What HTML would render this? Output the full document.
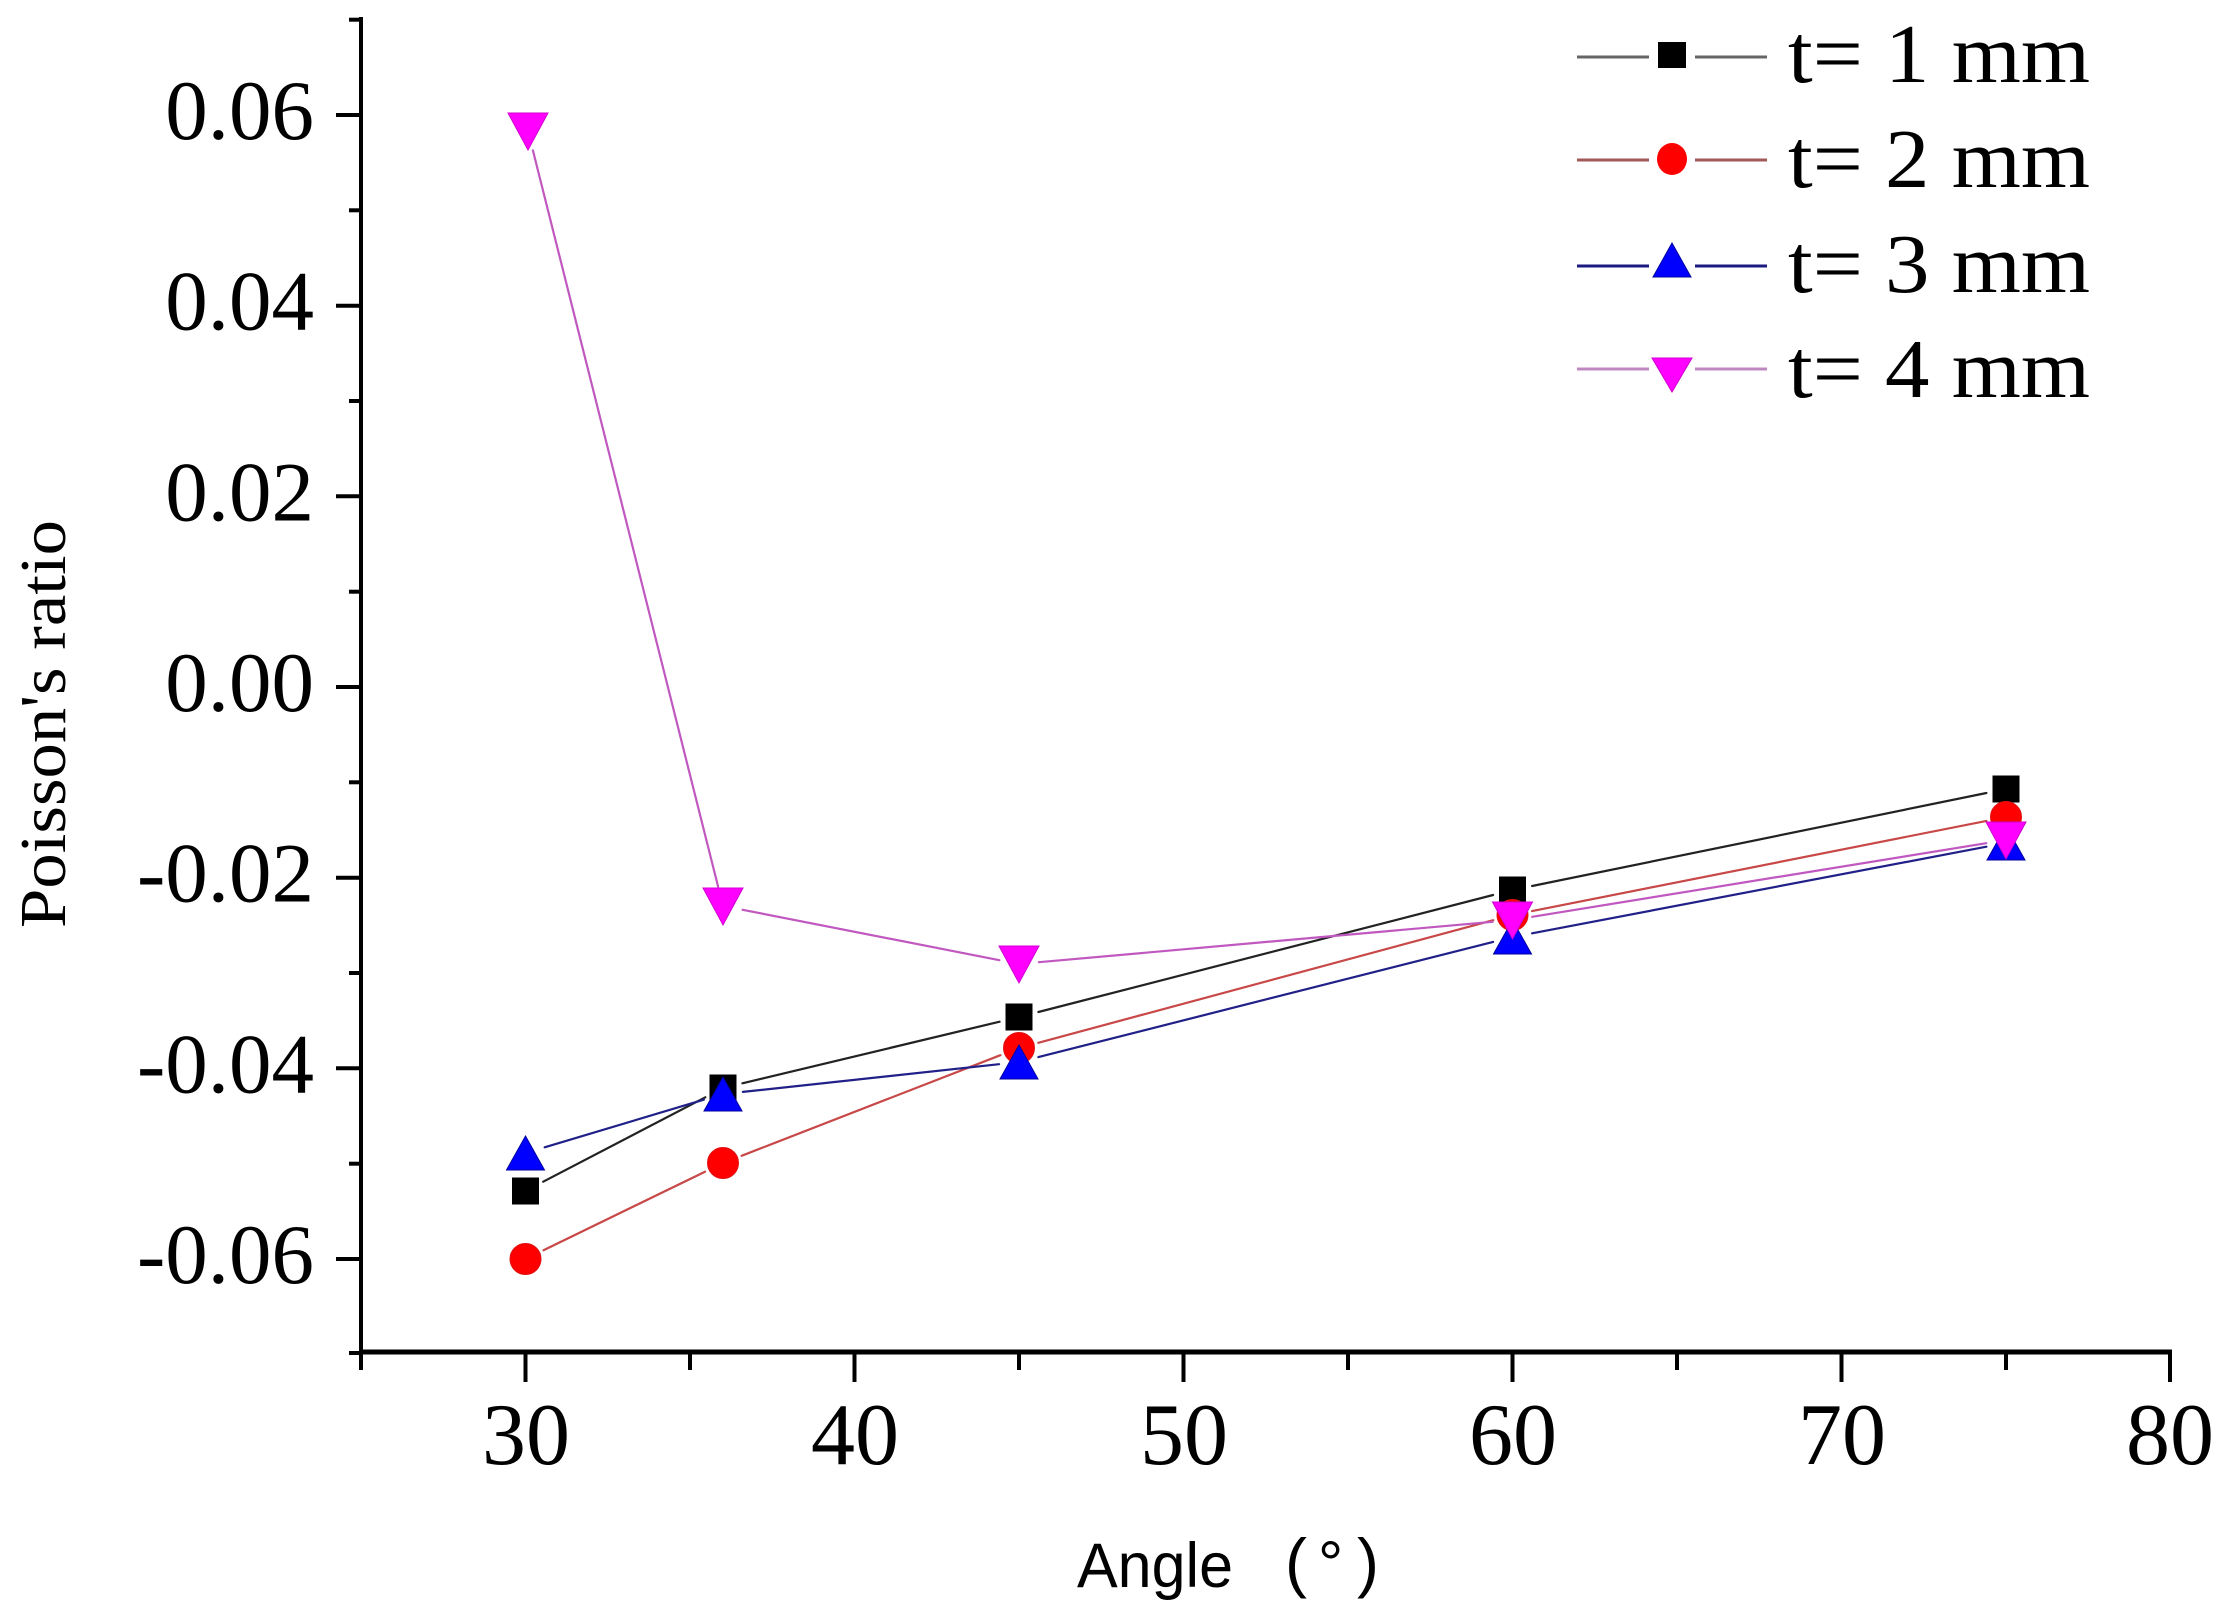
<!DOCTYPE html>
<html>
<head>
<meta charset="utf-8">
<style>
html,body{margin:0;padding:0;background:#fff;}
svg{display:block;}
</style>
</head>
<body>
<svg width="2233" height="1617" viewBox="0 0 2233 1617" xmlns="http://www.w3.org/2000/svg">
<rect width="2233" height="1617" fill="#fff"/>

<!-- axes -->
<line x1="361" y1="17" x2="361" y2="1354" stroke="#000" stroke-width="4"/>
<line x1="359" y1="1352" x2="2172" y2="1352" stroke="#000" stroke-width="5"/>

<!-- y ticks major -->
<g stroke="#000" stroke-width="4">
<line x1="336" y1="115" x2="361" y2="115"/>
<line x1="336" y1="305.7" x2="361" y2="305.7"/>
<line x1="336" y1="496.3" x2="361" y2="496.3"/>
<line x1="336" y1="687" x2="361" y2="687"/>
<line x1="336" y1="877.7" x2="361" y2="877.7"/>
<line x1="336" y1="1068.3" x2="361" y2="1068.3"/>
<line x1="336" y1="1259" x2="361" y2="1259"/>
<!-- minor -->
<line x1="349" y1="19.7" x2="361" y2="19.7"/>
<line x1="349" y1="210.3" x2="361" y2="210.3"/>
<line x1="349" y1="401" x2="361" y2="401"/>
<line x1="349" y1="591.7" x2="361" y2="591.7"/>
<line x1="349" y1="782.3" x2="361" y2="782.3"/>
<line x1="349" y1="973" x2="361" y2="973"/>
<line x1="349" y1="1163.7" x2="361" y2="1163.7"/>
<line x1="349" y1="1353" x2="361" y2="1353"/>
</g>

<!-- x ticks -->
<g stroke="#000" stroke-width="4">
<line x1="525.5" y1="1352" x2="525.5" y2="1382"/>
<line x1="854.5" y1="1352" x2="854.5" y2="1382"/>
<line x1="1183.5" y1="1352" x2="1183.5" y2="1382"/>
<line x1="1512.5" y1="1352" x2="1512.5" y2="1382"/>
<line x1="1841.5" y1="1352" x2="1841.5" y2="1382"/>
<line x1="2170" y1="1352" x2="2170" y2="1382"/>
<line x1="361" y1="1352" x2="361" y2="1370"/>
<line x1="690" y1="1352" x2="690" y2="1370"/>
<line x1="1019" y1="1352" x2="1019" y2="1370"/>
<line x1="1348" y1="1352" x2="1348" y2="1370"/>
<line x1="1677" y1="1352" x2="1677" y2="1370"/>
<line x1="2006" y1="1352" x2="2006" y2="1370"/>
</g>

<!-- y tick labels -->
<g font-family="'Liberation Serif', serif" font-size="85" fill="#000" text-anchor="end">
<text x="314" y="139">0.06</text>
<text x="314" y="329.7">0.04</text>
<text x="314" y="520.3">0.02</text>
<text x="314" y="711">0.00</text>
<text x="314" y="901.7">-0.02</text>
<text x="314" y="1092.3">-0.04</text>
<text x="314" y="1283">-0.06</text>
</g>

<!-- x tick labels -->
<g font-family="'Liberation Serif', serif" font-size="88" fill="#000" text-anchor="middle">
<text x="526" y="1464">30</text>
<text x="855" y="1464">40</text>
<text x="1184" y="1464">50</text>
<text x="1513" y="1464">60</text>
<text x="1842" y="1464">70</text>
<text x="2170" y="1464">80</text>
</g>

<!-- axis titles -->
<text x="1077" y="1587" font-family="'Liberation Sans', sans-serif" font-size="63" textLength="156" lengthAdjust="spacingAndGlyphs" fill="#000">Angle</text>
<text x="1285" y="1585" font-family="'Liberation Sans', sans-serif" font-size="66" fill="#000">(</text>
<text x="1318" y="1585" font-family="'Liberation Sans', sans-serif" font-size="63" fill="#000">°</text>
<text x="1357" y="1585" font-family="'Liberation Sans', sans-serif" font-size="66" fill="#000">)</text>

<text transform="translate(65,724) rotate(-90)" text-anchor="middle" font-family="'Liberation Serif', serif" font-size="66" textLength="408" lengthAdjust="spacingAndGlyphs" fill="#000">Poisson's ratio</text>

<!-- series lines -->
<g fill="none" stroke-width="2.2" stroke-linecap="round">
<!-- t=1 black -->
<g stroke="#222">
<line x1="543.2" y1="1181.7" x2="705.3" y2="1097.3"/>
<line x1="742.4" y1="1083.3" x2="999.6" y2="1021.7"/>
<line x1="1038.4" y1="1012" x2="1493.1" y2="895"/>
<line x1="1532.1" y1="886" x2="1986.4" y2="793"/>
</g>
<!-- t=2 red -->
<g stroke="#c84848">
<line x1="543.5" y1="1250.3" x2="705" y2="1171.7"/>
<line x1="741.6" y1="1155.8" x2="1000.4" y2="1055.2"/>
<line x1="1038.3" y1="1042.8" x2="1493.2" y2="920.2"/>
<line x1="1532.1" y1="911.1" x2="1986.4" y2="820.9"/>
</g>
<!-- t=3 blue -->
<g stroke="#202088">
<line x1="544.7" y1="1147.3" x2="703.8" y2="1099.7"/>
<line x1="742.9" y1="1091.9" x2="999.1" y2="1064.2"/>
<line x1="1038.4" y1="1057.1" x2="1493.1" y2="941.9"/>
<line x1="1532.1" y1="933.3" x2="1986.4" y2="846.7"/>
</g>
<!-- t=4 magenta -->
<g stroke="#c058c0">
<line x1="532.9" y1="150.4" x2="718.1" y2="886.6"/>
<line x1="742.6" y1="909.8" x2="999.4" y2="960.2"/>
<line x1="1038.9" y1="962.2" x2="1492.6" y2="921.8"/>
<line x1="1532.2" y1="916.8" x2="1986.3" y2="843.2"/>
</g>
</g>

<!-- markers t=1 squares -->
<g fill="#000">
<rect x="512" y="1177.5" width="27" height="27"/>
<rect x="709.5" y="1074.5" width="27" height="27"/>
<rect x="1005.5" y="1003.5" width="27" height="27"/>
<rect x="1499" y="876.5" width="27" height="27"/>
<rect x="1992.5" y="775.5" width="27" height="27"/>
</g>
<!-- t=2 circles -->
<g fill="#ff0000" stroke="#e01010" stroke-width="1">
<circle cx="525.5" cy="1259" r="15.5"/>
<circle cx="723" cy="1163" r="15.5"/>
<circle cx="1019" cy="1048" r="15.5"/>
<circle cx="1512.5" cy="915" r="15.5"/>
<circle cx="2006" cy="817" r="15.5"/>
</g>
<!-- t=3 up triangles -->
<g fill="#0000ff" stroke="#0000a0" stroke-width="1">
<polygon points="525.5,1136 506.5,1170 544.5,1170"/>
<polygon points="723,1077 704,1111 742,1111"/>
<polygon points="1019,1045 1000,1079 1038,1079"/>
<polygon points="1512.5,920 1493.5,954 1531.5,954"/>
<polygon points="2006,826 1987,860 2025,860"/>
</g>
<!-- t=4 down triangles -->
<g fill="#ff00ff" stroke="#d000d0" stroke-width="1">
<polygon points="508,113 548,113 528,150"/>
<polygon points="703,888 743,888 723,925"/>
<polygon points="999,946 1039,946 1019,983"/>
<polygon points="1492.5,902 1532.5,902 1512.5,939"/>
<polygon points="1986,822 2026,822 2006,859"/>
</g>

<!-- legend -->
<g stroke-width="3">
<line x1="1577" y1="57" x2="1649" y2="57" stroke="#666"/>
<line x1="1695" y1="57" x2="1767" y2="57" stroke="#666"/>
<line x1="1577" y1="160" x2="1649" y2="160" stroke="#a05a5a"/>
<line x1="1695" y1="160" x2="1767" y2="160" stroke="#a05a5a"/>
<line x1="1577" y1="266" x2="1649" y2="266" stroke="#1a1a80"/>
<line x1="1695" y1="266" x2="1767" y2="266" stroke="#1a1a80"/>
<line x1="1577" y1="369" x2="1649" y2="369" stroke="#c088c0"/>
<line x1="1695" y1="369" x2="1767" y2="369" stroke="#c088c0"/>
</g>
<rect x="1658" y="42" width="28" height="26" fill="#000"/>
<ellipse cx="1672" cy="159" rx="15" ry="16" fill="#ff0000"/>
<polygon points="1672,243 1653,277 1691,277" fill="#0000ff" stroke="#0000a0" stroke-width="1"/>
<polygon points="1652,358 1692,358 1672,392" fill="#ff00ff" stroke="#d000d0" stroke-width="1"/>

<g font-family="'Liberation Serif', serif" font-size="84" fill="#000">
<text x="1788" y="82" textLength="302" lengthAdjust="spacingAndGlyphs">t= 1 mm</text>
<text x="1788" y="187" textLength="302" lengthAdjust="spacingAndGlyphs">t= 2 mm</text>
<text x="1788" y="292" textLength="302" lengthAdjust="spacingAndGlyphs">t= 3 mm</text>
<text x="1788" y="397" textLength="302" lengthAdjust="spacingAndGlyphs">t= 4 mm</text>
</g>
</svg>
</body>
</html>
